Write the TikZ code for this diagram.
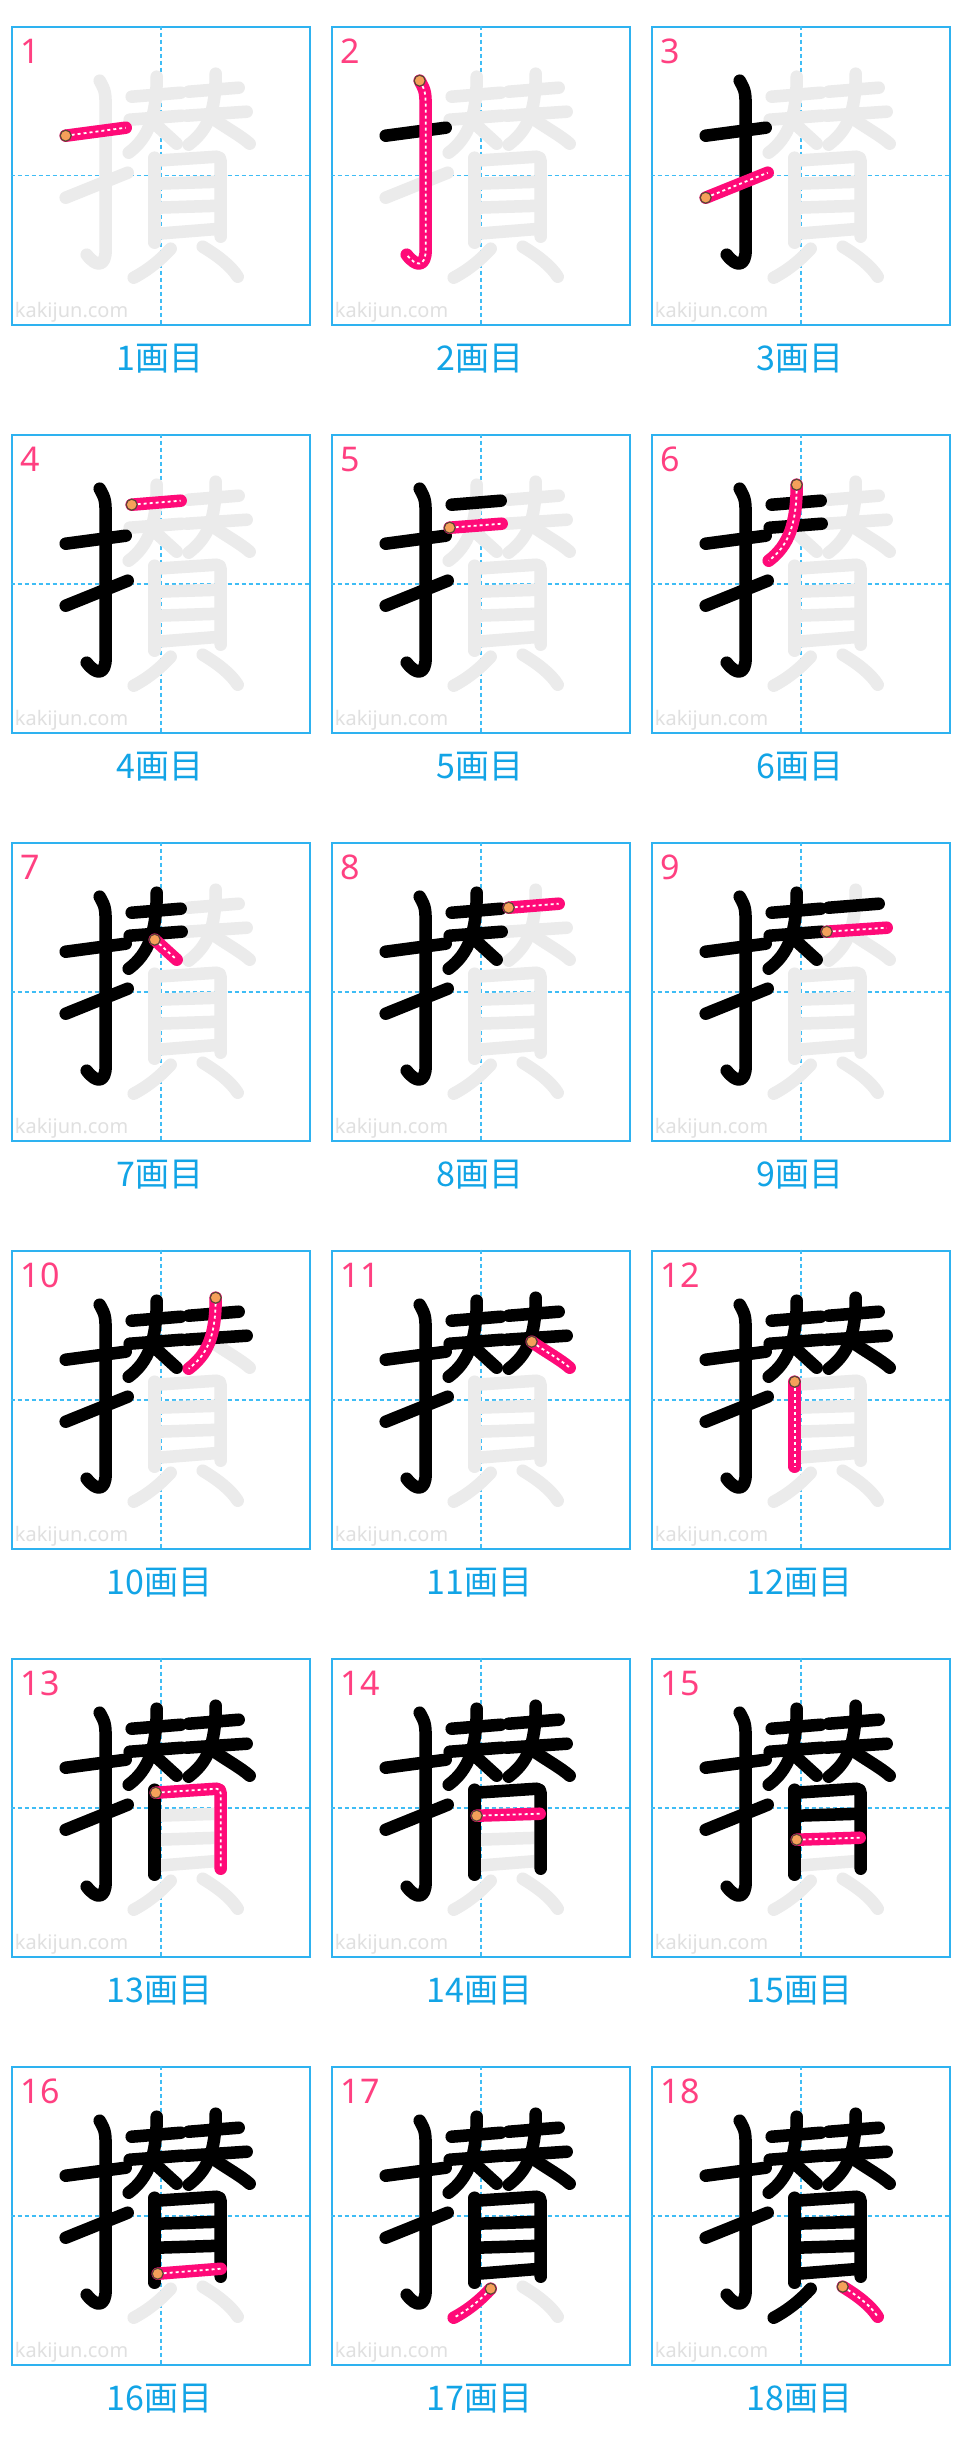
\documentclass[tikz,border=0pt]{standalone}
\usepackage{fontspec}
\setmainfont{Noto Sans}
\newfontfamily\jpfont{Noto Sans CJK JP}
\usepackage{tikz}
\usetikzlibrary{positioning}
\definecolor{cBox}{HTML}{2EB2F0}
\definecolor{cGuide}{HTML}{3FBDF5}
\definecolor{cGhost}{HTML}{EBEBEB}
\definecolor{cPen}{HTML}{FF0A78}
\definecolor{cDot}{HTML}{F5A05A}
\definecolor{cDotRim}{HTML}{5B4636}
\definecolor{cNum}{HTML}{FF4081}
\definecolor{cWm}{HTML}{E0E0E0}
\definecolor{cLabel}{HTML}{12A4E6}
\tikzset{
  cell/.style    = {rectangle, draw=cBox, line width=2pt, minimum width=298pt,
                    minimum height=298pt, inner sep=0pt, anchor=north west},
  guide/.style   = {draw=cGuide, line width=1.6pt, dash pattern=on 4pt off 3pt},
  ghost/.style   = {draw=cGhost, line width=12.5pt, line cap=round, line join=round},
  done/.style    = {ghost, draw=black},
  pen/.style     = {ghost, draw=cPen},
  penline/.style = {draw=white, line width=1.8pt, dash pattern=on 3pt off 3pt},
  dot/.style     = {circle, fill=cDot, draw=cDotRim, line width=1.2pt,
                    minimum size=11pt, inner sep=0pt},
  num/.style     = {font=\bfseries\fontsize{34}{34}\selectfont, text=cNum, anchor=base west, inner sep=0pt},
  wm/.style      = {font=\fontsize{20}{20}\selectfont, text=cWm, anchor=base west, inner sep=0pt},
  lab/.style     = {font=\jpfont\fontsize{34}{34}\selectfont, text=cLabel, anchor=base, inner sep=0pt},
}
% stroke n: start x, start y, rest of the path (cell pixels, y down)
\newcommand{\defstroke}[4]{%
  \expandafter\def\csname kstroke#1\endcsname{(#2,#3) #4}%
  \expandafter\def\csname kstartx#1\endcsname{#2}%
  \expandafter\def\csname kstarty#1\endcsname{#3}}
\defstroke{1}{55}{110}{-- (115,102)}
\defstroke{2}{89}{55}{.. controls (95,66) .. (95,90) -- (95,224) .. controls (95,241) and (86,242) .. (76,229)}
\defstroke{3}{55}{172}{-- (117,147)}
\defstroke{4}{121}{71}{-- (170,67)}
\defstroke{5}{119}{94}{-- (171,90)}
\defstroke{6}{146}{51}{.. controls (146,90) and (138,112) .. (118,127)}
\defstroke{7}{144}{98}{-- (166,118)}
\defstroke{8}{178}{66}{-- (228,62)}
\defstroke{9}{176}{90}{-- (236,86)}
\defstroke{10}{205}{48}{.. controls (205,88) and (196,105) .. (178,119)}
\defstroke{11}{201}{92}{.. controls (215,102) and (230,110) .. (239,118)}
\defstroke{12}{144}{132}{-- (144,217)}
\defstroke{13}{145}{135}{-- (206,131) .. controls (209,131) and (210,133) .. (210,136) -- (210,211)}
\defstroke{14}{146}{158}{-- (209,156)}
\defstroke{15}{146}{182}{-- (209,180)}
\defstroke{16}{147}{208}{-- (210,203)}
\defstroke{17}{160}{223}{.. controls (150,234) and (138,244) .. (123,252)}
\defstroke{18}{192}{221}{.. controls (207,230) and (220,240) .. (227,251)}

\newcommand{\kanjicell}[3]{%
  \begin{scope}[shift={(#1,#2)}]
    \node[cell] (cell#3) at (0,0) {};
    \draw[guide] (cell#3.north) -- (cell#3.south);
    \draw[guide] (cell#3.west) -- (cell#3.east);
    \node[wm] (wm#3) at (4,292) {kakijun.com};
    \node[num] (num#3) at (10,38) {#3};
    \foreach \k in {1,...,18}
      \draw[ghost] \csname kstroke\k\endcsname;
    \ifnum#3>1
      \pgfmathtruncatemacro\prev{#3-1}
      \foreach \k in {1,...,\prev}
        \draw[done] \csname kstroke\k\endcsname;
    \fi
    \draw[pen] \csname kstroke#3\endcsname;
    \draw[penline] \csname kstroke#3\endcsname;
    \edef\sx{\csname kstartx#3\endcsname}\edef\sy{\csname kstarty#3\endcsname}
    \node[dot] (start#3) at (\sx,\sy) {};
    \node[lab] (lab#3) at (149,345) {#3画目};
  \end{scope}}

\begin{document}
\begin{tikzpicture}[x=1pt, y=-1pt]
  \useasboundingbox[fill=white] (0,0) rectangle (960,2448);

  \foreach \n in {1,...,18}{
    \pgfmathtruncatemacro\row{(\n-1)/3}
    \pgfmathtruncatemacro\col{\n-1-3*\row}
    \kanjicell{10.7+320*\col}{25.7+408*\row}{\n}
  }
\end{tikzpicture}
\end{document}
